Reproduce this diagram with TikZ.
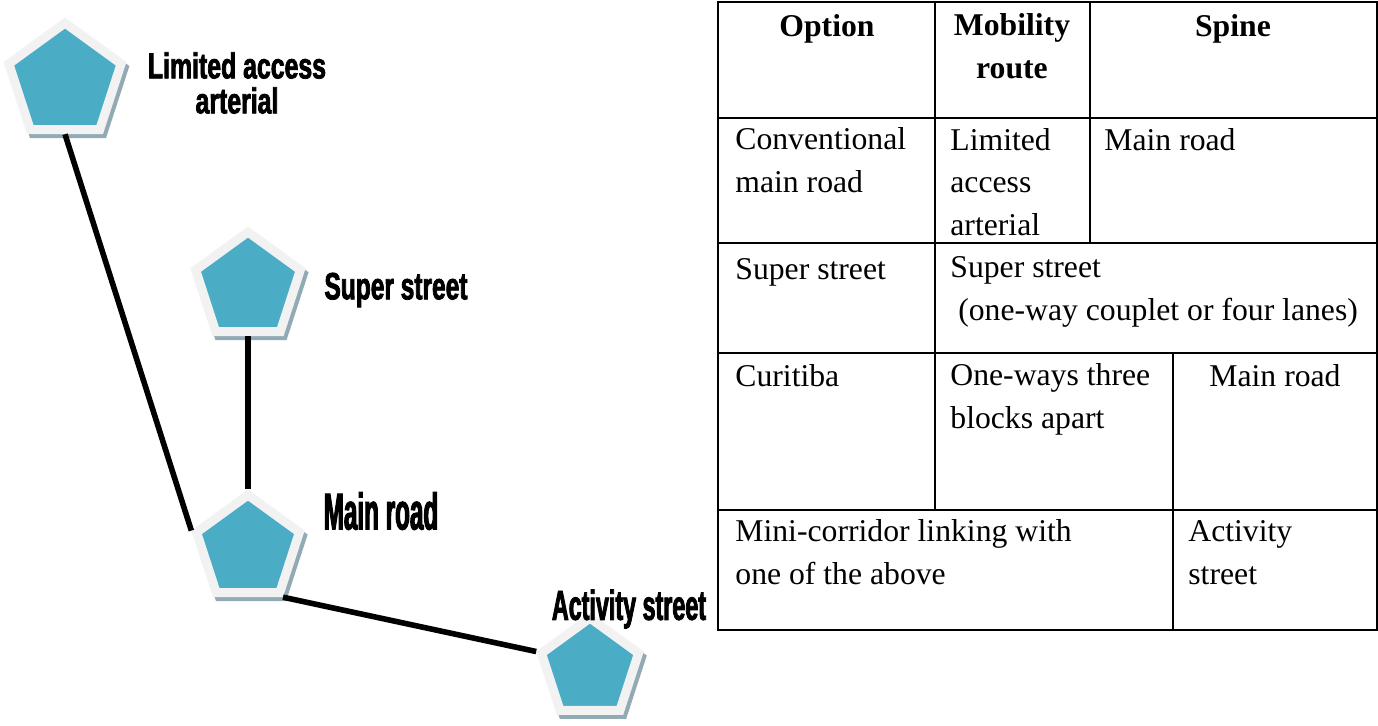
\documentclass[tikz,border=0pt]{standalone}
\usepackage{fontspec}
\setmainfont{Liberation Serif}
\newfontfamily\lblfont[FakeBold=2]{Liberation Sans}
\usetikzlibrary{shapes.geometric}
\definecolor{pentfill}{RGB}{75,172,198}
\definecolor{pentrim}{RGB}{242,242,242}
\definecolor{pentshadow}{RGB}{146,170,180}
\newcommand{\lblsize}[3]{\lblfont\bfseries\fontsize{#1}{#2}\selectfont\addfontfeatures{FakeStretch=#3}}
\newcommand{\cellsize}{\fontsize{15.85}{21.2}\selectfont}
\tikzset{
	pent/.style={regular polygon,regular polygon sides=5,inner sep=0pt,fill=pentfill,draw=pentrim,line width=4.5pt,
		preaction={fill=pentshadow,draw=pentshadow,transform canvas={xshift=1.5pt,yshift=-2pt}}},
	road/.style={line width=2.8pt},
	lbl/.style={align=center,inner sep=0pt},
	cell/.style={anchor=base west,align=left,inner sep=0pt},
	head/.style={anchor=base,align=center,inner sep=0pt,font=\cellsize\bfseries}
}
\begin{document}
\begin{tikzpicture}[x=0.5pt,y=-0.5pt,font=\cellsize]
	\useasboundingbox (0,0) rectangle (1378,725);
	% road hierarchy
	\node[pent,minimum size=59pt] (lim) at (65,82) {};
	\node[pent,minimum size=55pt] (super) at (248,287) {};
	\node[pent,minimum size=54pt] (main) at (248,549) {};
	\node[pent,minimum size=51pt] (act) at (590,669) {};
	\draw[road] (lim.south) -- (main.corner 2);
	\draw[road] (super.south) -- (main.corner 1);
	\draw[road] (main.corner 4) -- (act.corner 2);
	\node[lbl,font=\lblsize{18}{17.5}{0.69}] (limlbl) at (237,83) {Limited access\\arterial};
	\node[lbl,font=\lblsize{19}{20}{0.645}] (superlbl) at (396,290) {Super street};
	\node[lbl,font=\lblsize{25.8}{26}{0.47}] (mainlbl) at (381,511) {Main road};
	\node[lbl,font=\lblsize{21}{22}{0.555}] (actlbl) at (629,609) {Activity street};
	% table (base anchor = last line)
	\draw[line width=1pt] (718,2) rectangle (1377,630);
	\draw[line width=1pt] (718,118) -- (1377,118) (718,243) -- (1377,243) (718,353) -- (1377,353) (718,510) -- (1377,510);
	\draw[line width=1pt] (935,2) -- (935,510) (1090,2) -- (1090,243) (1173,353) -- (1173,630);
	\node[head] (opt) at (827,36) {Option};
	\node[head] (mob) at (1012,78) {Mobility\\route};
	\node[head] (spine) at (1233,36) {Spine};
	\node[cell] (conv) at (735,192) {Conventional\\main road};
	\node[cell] (lac) at (950,235) {Limited\\access\\arterial};
	\node[cell] (mr1) at (1104,150) {Main road};
	\node[cell] (ss1) at (735,279) {Super street};
	\node[cell] (ss2) at (950,320) {Super street\\\ (one-way couplet or four lanes)};
	\node[cell] (cur) at (735,386) {Curitiba};
	\node[cell] (ow) at (950,428) {One-ways three\\blocks apart};
	\node[anchor=base,inner sep=0pt] (mr2) at (1275,386) {Main road};
	\node[cell] (mini) at (735,584) {Mini-corridor linking with\\one of the above};
	\node[cell] (as) at (1188,584) {Activity\\street};
\end{tikzpicture}
\end{document}
